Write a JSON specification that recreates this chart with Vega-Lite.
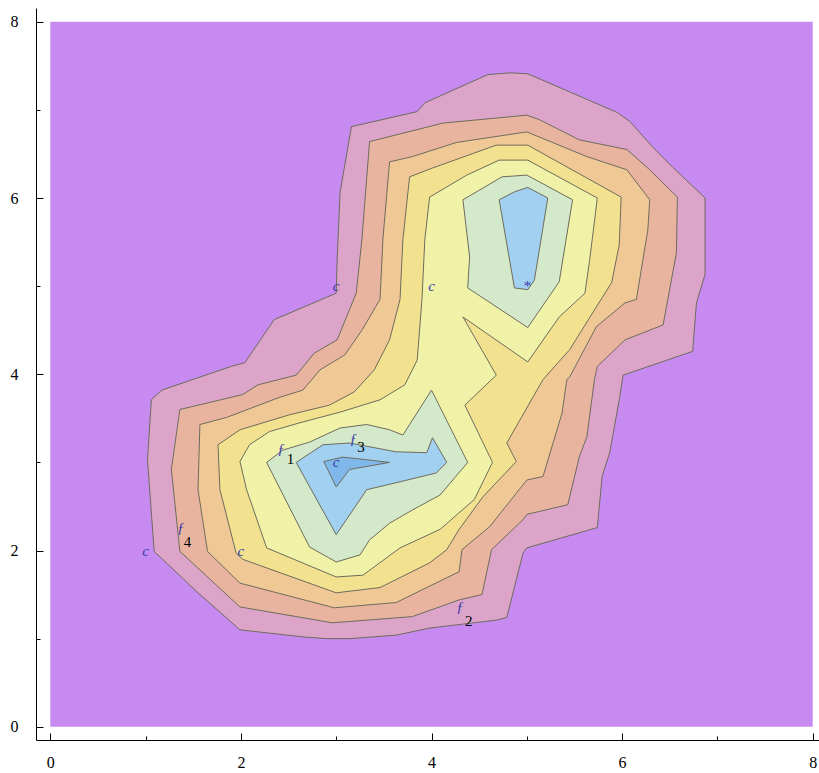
{
  "$schema": "https://vega.github.io/schema/vega-lite/v6.json",
  "width": 783,
  "height": 732,
  "autosize": "none",
  "padding": {"left": 36, "top": 8, "right": 0, "bottom": 33},
  "background": "white",
  "config": {"view": {"stroke": null}},
  "datasets": {
    "bg": [{"x": 0, "y": 0, "xe": 8, "ye": 8}],
    "contours": [
      {"p":"p01","l":"1","i":0,"x":4.59,"y":7.40},{"p":"p01","l":"1","i":1,"x":4.82,"y":7.42},{"p":"p01","l":"1","i":2,"x":5.01,"y":7.41},{"p":"p01","l":"1","i":3,"x":5.95,"y":6.97},{"p":"p01","l":"1","i":4,"x":6.08,"y":6.87},{"p":"p01","l":"1","i":5,"x":6.32,"y":6.58},{"p":"p01","l":"1","i":6,"x":6.53,"y":6.35},{"p":"p01","l":"1","i":7,"x":6.87,"y":6.00},{"p":"p01","l":"1","i":8,"x":6.87,"y":5.13},{"p":"p01","l":"1","i":9,"x":6.78,"y":4.81},{"p":"p01","l":"1","i":10,"x":6.74,"y":4.26},{"p":"p01","l":"1","i":11,"x":6.01,"y":3.99},{"p":"p01","l":"1","i":12,"x":5.97,"y":3.71},{"p":"p01","l":"1","i":13,"x":5.87,"y":3.11},{"p":"p01","l":"1","i":14,"x":5.79,"y":2.84},{"p":"p01","l":"1","i":15,"x":5.74,"y":2.26},{"p":"p01","l":"1","i":16,"x":5.00,"y":2.03},{"p":"p01","l":"1","i":17,"x":4.96,"y":1.97},{"p":"p01","l":"1","i":18,"x":4.79,"y":1.24},{"p":"p01","l":"1","i":19,"x":4.68,"y":1.21},{"p":"p01","l":"1","i":20,"x":3.98,"y":1.12},{"p":"p01","l":"1","i":21,"x":3.63,"y":1.04},{"p":"p01","l":"1","i":22,"x":3.14,"y":1.00},{"p":"p01","l":"1","i":23,"x":2.90,"y":1.00},{"p":"p01","l":"1","i":24,"x":2.65,"y":1.02},{"p":"p01","l":"1","i":25,"x":1.99,"y":1.10},{"p":"p01","l":"1","i":26,"x":1.54,"y":1.53},{"p":"p01","l":"1","i":27,"x":1.09,"y":1.99},{"p":"p01","l":"1","i":28,"x":1.02,"y":3.03},{"p":"p01","l":"1","i":29,"x":1.06,"y":3.71},{"p":"p01","l":"1","i":30,"x":1.17,"y":3.82},{"p":"p01","l":"1","i":31,"x":1.90,"y":4.09},{"p":"p01","l":"1","i":32,"x":2.04,"y":4.13},{"p":"p01","l":"1","i":33,"x":2.35,"y":4.62},{"p":"p01","l":"1","i":34,"x":3.00,"y":4.92},{"p":"p01","l":"1","i":35,"x":3.01,"y":5.30},{"p":"p01","l":"1","i":36,"x":3.04,"y":6.06},{"p":"p01","l":"1","i":37,"x":3.16,"y":6.81},{"p":"p01","l":"1","i":38,"x":3.85,"y":6.98},{"p":"p01","l":"1","i":39,"x":3.93,"y":7.08},

      {"p":"p02","l":"2","i":0,"x":3.35,"y":6.64},{"p":"p02","l":"2","i":1,"x":4.12,"y":6.85},{"p":"p02","l":"2","i":2,"x":5.00,"y":6.94},{"p":"p02","l":"2","i":3,"x":5.13,"y":6.89},{"p":"p02","l":"2","i":4,"x":5.55,"y":6.66},{"p":"p02","l":"2","i":5,"x":6.05,"y":6.55},{"p":"p02","l":"2","i":6,"x":6.29,"y":6.32},{"p":"p02","l":"2","i":7,"x":6.58,"y":6.01},{"p":"p02","l":"2","i":8,"x":6.57,"y":5.38},{"p":"p02","l":"2","i":9,"x":6.43,"y":4.56},{"p":"p02","l":"2","i":10,"x":6.03,"y":4.39},{"p":"p02","l":"2","i":11,"x":5.74,"y":4.09},{"p":"p02","l":"2","i":12,"x":5.71,"y":3.94},{"p":"p02","l":"2","i":13,"x":5.63,"y":3.29},{"p":"p02","l":"2","i":14,"x":5.55,"y":3.06},{"p":"p02","l":"2","i":15,"x":5.43,"y":2.52},{"p":"p02","l":"2","i":16,"x":5.00,"y":2.41},{"p":"p02","l":"2","i":17,"x":4.96,"y":2.35},{"p":"p02","l":"2","i":18,"x":4.63,"y":2.01},{"p":"p02","l":"2","i":19,"x":4.53,"y":1.50},{"p":"p02","l":"2","i":20,"x":4.29,"y":1.44},{"p":"p02","l":"2","i":21,"x":3.80,"y":1.25},{"p":"p02","l":"2","i":22,"x":2.96,"y":1.18},{"p":"p02","l":"2","i":23,"x":1.99,"y":1.36},{"p":"p02","l":"2","i":24,"x":1.36,"y":1.99},{"p":"p02","l":"2","i":25,"x":1.27,"y":2.92},{"p":"p02","l":"2","i":26,"x":1.36,"y":3.60},{"p":"p02","l":"2","i":27,"x":2.02,"y":3.77},{"p":"p02","l":"2","i":28,"x":2.18,"y":3.88},{"p":"p02","l":"2","i":29,"x":2.58,"y":3.99},{"p":"p02","l":"2","i":30,"x":2.77,"y":4.24},{"p":"p02","l":"2","i":31,"x":3.01,"y":4.39},{"p":"p02","l":"2","i":32,"x":3.21,"y":4.92},{"p":"p02","l":"2","i":33,"x":3.27,"y":5.53},

      {"p":"p03","l":"3","i":0,"x":3.56,"y":6.41},{"p":"p03","l":"3","i":1,"x":3.80,"y":6.47},{"p":"p03","l":"3","i":2,"x":4.26,"y":6.63},{"p":"p03","l":"3","i":3,"x":5.00,"y":6.75},{"p":"p03","l":"3","i":4,"x":5.63,"y":6.47},{"p":"p03","l":"3","i":5,"x":6.05,"y":6.32},{"p":"p03","l":"3","i":6,"x":6.29,"y":5.98},{"p":"p03","l":"3","i":7,"x":6.27,"y":5.64},{"p":"p03","l":"3","i":8,"x":6.15,"y":4.85},{"p":"p03","l":"3","i":9,"x":6.03,"y":4.81},{"p":"p03","l":"3","i":10,"x":5.73,"y":4.54},{"p":"p03","l":"3","i":11,"x":5.45,"y":3.97},{"p":"p03","l":"3","i":12,"x":5.42,"y":3.94},{"p":"p03","l":"3","i":13,"x":5.37,"y":3.56},{"p":"p03","l":"3","i":14,"x":5.17,"y":2.84},{"p":"p03","l":"3","i":15,"x":5.00,"y":2.80},{"p":"p03","l":"3","i":16,"x":4.61,"y":2.27},{"p":"p03","l":"3","i":17,"x":4.32,"y":2.01},{"p":"p03","l":"3","i":18,"x":4.29,"y":1.76},{"p":"p03","l":"3","i":19,"x":3.63,"y":1.41},{"p":"p03","l":"3","i":20,"x":2.98,"y":1.35},{"p":"p03","l":"3","i":21,"x":1.99,"y":1.63},{"p":"p03","l":"3","i":22,"x":1.65,"y":1.99},{"p":"p03","l":"3","i":23,"x":1.55,"y":2.69},{"p":"p03","l":"3","i":24,"x":1.57,"y":3.43},{"p":"p03","l":"3","i":25,"x":1.85,"y":3.51},{"p":"p03","l":"3","i":26,"x":2.41,"y":3.74},{"p":"p03","l":"3","i":27,"x":2.65,"y":3.82},{"p":"p03","l":"3","i":28,"x":2.83,"y":4.05},{"p":"p03","l":"3","i":29,"x":3.09,"y":4.22},{"p":"p03","l":"3","i":30,"x":3.27,"y":4.50},{"p":"p03","l":"3","i":31,"x":3.46,"y":4.85},{"p":"p03","l":"3","i":32,"x":3.49,"y":5.53},

      {"p":"p04","l":"4","i":0,"x":3.77,"y":6.24},{"p":"p04","l":"4","i":1,"x":4.01,"y":6.34},{"p":"p04","l":"4","i":2,"x":4.68,"y":6.60},{"p":"p04","l":"4","i":3,"x":5.01,"y":6.60},{"p":"p04","l":"4","i":4,"x":5.99,"y":6.01},{"p":"p04","l":"4","i":5,"x":5.97,"y":5.47},{"p":"p04","l":"4","i":6,"x":5.89,"y":5.04},{"p":"p04","l":"4","i":7,"x":5.71,"y":4.73},{"p":"p04","l":"4","i":8,"x":5.45,"y":4.28},{"p":"p04","l":"4","i":9,"x":5.17,"y":3.94},{"p":"p04","l":"4","i":10,"x":4.79,"y":3.22},{"p":"p04","l":"4","i":11,"x":4.89,"y":3.01},{"p":"p04","l":"4","i":12,"x":4.54,"y":2.61},{"p":"p04","l":"4","i":13,"x":4.29,"y":2.24},{"p":"p04","l":"4","i":14,"x":4.16,"y":2.01},{"p":"p04","l":"4","i":15,"x":3.98,"y":1.86},{"p":"p04","l":"4","i":16,"x":3.46,"y":1.58},{"p":"p04","l":"4","i":17,"x":3.00,"y":1.52},{"p":"p04","l":"4","i":18,"x":2.02,"y":1.90},{"p":"p04","l":"4","i":19,"x":1.95,"y":1.97},{"p":"p04","l":"4","i":20,"x":1.78,"y":2.69},{"p":"p04","l":"4","i":21,"x":1.76,"y":3.20},{"p":"p04","l":"4","i":22,"x":1.99,"y":3.37},{"p":"p04","l":"4","i":23,"x":2.51,"y":3.54},{"p":"p04","l":"4","i":24,"x":2.93,"y":3.65},{"p":"p04","l":"4","i":25,"x":3.19,"y":3.80},{"p":"p04","l":"4","i":26,"x":3.40,"y":4.05},{"p":"p04","l":"4","i":27,"x":3.56,"y":4.39},{"p":"p04","l":"4","i":28,"x":3.67,"y":4.85},{"p":"p04","l":"4","i":29,"x":3.70,"y":5.53},

      {"p":"p05","l":"5","i":0,"x":3.98,"y":6.01},{"p":"p05","l":"5","i":1,"x":4.37,"y":6.26},{"p":"p05","l":"5","i":2,"x":4.71,"y":6.43},{"p":"p05","l":"5","i":3,"x":5.01,"y":6.43},{"p":"p05","l":"5","i":4,"x":5.74,"y":6.00},{"p":"p05","l":"5","i":5,"x":5.66,"y":5.30},{"p":"p05","l":"5","i":6,"x":5.61,"y":4.92},{"p":"p05","l":"5","i":7,"x":5.34,"y":4.65},{"p":"p05","l":"5","i":8,"x":5.01,"y":4.14},{"p":"p05","l":"5","i":9,"x":4.33,"y":4.65},{"p":"p05","l":"5","i":10,"x":4.68,"y":3.99},{"p":"p05","l":"5","i":11,"x":4.35,"y":3.65},{"p":"p05","l":"5","i":12,"x":4.64,"y":3.00},{"p":"p05","l":"5","i":13,"x":4.45,"y":2.58},{"p":"p05","l":"5","i":14,"x":4.09,"y":2.24},{"p":"p05","l":"5","i":15,"x":3.67,"y":2.03},{"p":"p05","l":"5","i":16,"x":3.28,"y":1.72},{"p":"p05","l":"5","i":17,"x":3.00,"y":1.70},{"p":"p05","l":"5","i":18,"x":2.27,"y":2.03},{"p":"p05","l":"5","i":19,"x":2.06,"y":2.69},{"p":"p05","l":"5","i":20,"x":1.99,"y":3.01},{"p":"p05","l":"5","i":21,"x":2.09,"y":3.20},{"p":"p05","l":"5","i":22,"x":2.30,"y":3.35},{"p":"p05","l":"5","i":23,"x":2.62,"y":3.45},{"p":"p05","l":"5","i":24,"x":3.04,"y":3.57},{"p":"p05","l":"5","i":25,"x":3.46,"y":3.71},{"p":"p05","l":"5","i":26,"x":3.72,"y":3.88},{"p":"p05","l":"5","i":27,"x":3.85,"y":4.16},{"p":"p05","l":"5","i":28,"x":3.90,"y":4.85},{"p":"p05","l":"5","i":29,"x":3.93,"y":5.53},

      {"p":"p06","l":"6","i":0,"x":4.33,"y":5.98},{"p":"p06","l":"6","i":1,"x":4.74,"y":6.24},{"p":"p06","l":"6","i":2,"x":5.00,"y":6.26},{"p":"p06","l":"6","i":3,"x":5.48,"y":5.98},{"p":"p06","l":"6","i":4,"x":5.34,"y":5.05},{"p":"p06","l":"6","i":5,"x":5.01,"y":4.53},{"p":"p06","l":"6","i":6,"x":4.38,"y":4.98},{"p":"p06","l":"6","i":7,"x":4.40,"y":5.33},

      {"p":"p07","l":"6","i":0,"x":2.27,"y":3.00},{"p":"p07","l":"6","i":1,"x":2.44,"y":3.14},{"p":"p07","l":"6","i":2,"x":2.72,"y":3.23},{"p":"p07","l":"6","i":3,"x":3.04,"y":3.39},{"p":"p07","l":"6","i":4,"x":3.32,"y":3.43},{"p":"p07","l":"6","i":5,"x":3.56,"y":3.37},{"p":"p07","l":"6","i":6,"x":3.70,"y":3.31},{"p":"p07","l":"6","i":7,"x":4.00,"y":3.82},{"p":"p07","l":"6","i":8,"x":4.38,"y":3.00},{"p":"p07","l":"6","i":9,"x":4.09,"y":2.63},{"p":"p07","l":"6","i":10,"x":3.80,"y":2.46},{"p":"p07","l":"6","i":11,"x":3.56,"y":2.31},{"p":"p07","l":"6","i":12,"x":3.35,"y":2.12},{"p":"p07","l":"6","i":13,"x":3.25,"y":1.95},{"p":"p07","l":"6","i":14,"x":3.00,"y":1.87},{"p":"p07","l":"6","i":15,"x":2.72,"y":2.04},

      {"p":"p08","l":"7","i":0,"x":4.71,"y":5.98},{"p":"p08","l":"7","i":1,"x":4.87,"y":6.07},{"p":"p08","l":"7","i":2,"x":5.01,"y":6.12},{"p":"p08","l":"7","i":3,"x":5.22,"y":6.00},{"p":"p08","l":"7","i":4,"x":5.08,"y":5.07},{"p":"p08","l":"7","i":5,"x":5.01,"y":4.96},{"p":"p08","l":"7","i":6,"x":4.87,"y":4.98},

      {"p":"p09","l":"7","i":0,"x":2.58,"y":3.00},{"p":"p09","l":"7","i":1,"x":2.86,"y":3.20},{"p":"p09","l":"7","i":2,"x":3.14,"y":3.22},{"p":"p09","l":"7","i":3,"x":3.63,"y":3.12},{"p":"p09","l":"7","i":4,"x":3.95,"y":3.11},{"p":"p09","l":"7","i":5,"x":4.01,"y":3.28},{"p":"p09","l":"7","i":6,"x":4.16,"y":3.00},{"p":"p09","l":"7","i":7,"x":4.05,"y":2.88},{"p":"p09","l":"7","i":8,"x":3.67,"y":2.78},{"p":"p09","l":"7","i":9,"x":3.32,"y":2.69},{"p":"p09","l":"7","i":10,"x":3.00,"y":2.18},

      {"p":"p10","l":"8","i":0,"x":2.87,"y":3.01},{"p":"p10","l":"8","i":1,"x":3.07,"y":3.06},{"p":"p10","l":"8","i":2,"x":3.56,"y":3.00},{"p":"p10","l":"8","i":3,"x":3.14,"y":2.92},{"p":"p10","l":"8","i":4,"x":3.00,"y":2.72}
    ],
    "marks": [
      {"x": 1, "y": 2, "t": "c"},
      {"x": 2, "y": 2, "t": "c"},
      {"x": 3, "y": 5, "t": "c"},
      {"x": 4, "y": 5, "t": "c"},
      {"x": 3, "y": 3, "t": "c"},
      {"x": 5, "y": 5, "t": "*"},
      {"x": 2.42, "y": 3.15, "t": "ƒ"},
      {"x": 3.18, "y": 3.27, "t": "ƒ"},
      {"x": 1.37, "y": 2.26, "t": "ƒ"},
      {"x": 4.30, "y": 1.36, "t": "ƒ"}
    ],
    "nums": [
      {"x": 2.52, "y": 3.04, "t": "1"},
      {"x": 3.26, "y": 3.18, "t": "3"},
      {"x": 1.44, "y": 2.10, "t": "4"},
      {"x": 4.39, "y": 1.20, "t": "2"}
    ]
  },
  "encoding": {
    "x": {
      "field": "x", "type": "quantitative",
      "scale": {"domain": [-0.15, 8.066], "nice": false, "zero": false},
      "axis": {
        "title": null, "grid": false, "format": "d",
        "values": [0, 0.5, 1, 1.5, 2, 2.5, 3, 3.5, 4, 4.5, 5, 5.5, 6, 6.5, 7, 7.5, 8],
        "labelExpr": "datum.value % 2 === 0 ? datum.label : ''",
        "tickSize": {"condition": {"test": "datum.value % 2 === 0", "value": -7}, "value": -4},
        "tickColor": "black", "domainColor": "black", "domainWidth": 1, "tickWidth": 1,
        "labelFont": "Liberation Serif", "labelFontSize": 16, "labelColor": "black",
        "labelPadding": 21, "labelFlush": false, "labelOverlap": false
      }
    },
    "y": {
      "field": "y", "type": "quantitative",
      "scale": {"domain": [-0.15, 8.156], "nice": false, "zero": false},
      "axis": {
        "title": null, "grid": false, "format": "d",
        "values": [0, 0.5, 1, 1.5, 2, 2.5, 3, 3.5, 4, 4.5, 5, 5.5, 6, 6.5, 7, 7.5, 8],
        "labelExpr": "datum.value % 2 === 0 ? datum.label : ''",
        "tickSize": {"condition": {"test": "datum.value % 2 === 0", "value": -7}, "value": -4},
        "tickColor": "black", "domainColor": "black", "domainWidth": 1, "tickWidth": 1,
        "labelFont": "Liberation Serif", "labelFontSize": 16, "labelColor": "black",
        "labelPadding": 25, "labelFlush": false, "labelOverlap": false
      }
    }
  },
  "layer": [
    {
      "data": {"name": "bg"},
      "mark": {"type": "rect", "color": "#C68AF0", "strokeWidth": 0},
      "encoding": {"x2": {"field": "xe"}, "y2": {"field": "ye"}}
    },
    {
      "data": {"name": "contours"},
      "mark": {"type": "line", "interpolate": "linear-closed", "stroke": "#6e6c5c", "strokeWidth": 1},
      "encoding": {
        "fill": {
          "field": "l", "type": "nominal",
          "scale": {"domain": ["1","2","3","4","5","6","7","8"], "range": ["#DCA4C8","#E8B4A0","#F0C896","#F2E290","#F0F2A8","#D4E8CA","#A2D0F0","#80B8EC"]},
          "legend": null
        },
        "detail": {"field": "p", "type": "nominal"},
        "order": {"field": "i", "type": "quantitative"}
      }
    },
    {
      "data": {"name": "marks"},
      "mark": {"type": "text", "font": "Liberation Serif", "fontStyle": "italic", "fontSize": 15, "color": "#3a3aa8"},
      "encoding": {"text": {"field": "t"}}
    },
    {
      "data": {"name": "nums"},
      "mark": {"type": "text", "font": "Liberation Serif", "fontSize": 15, "color": "black"},
      "encoding": {"text": {"field": "t"}}
    }
  ]
}
